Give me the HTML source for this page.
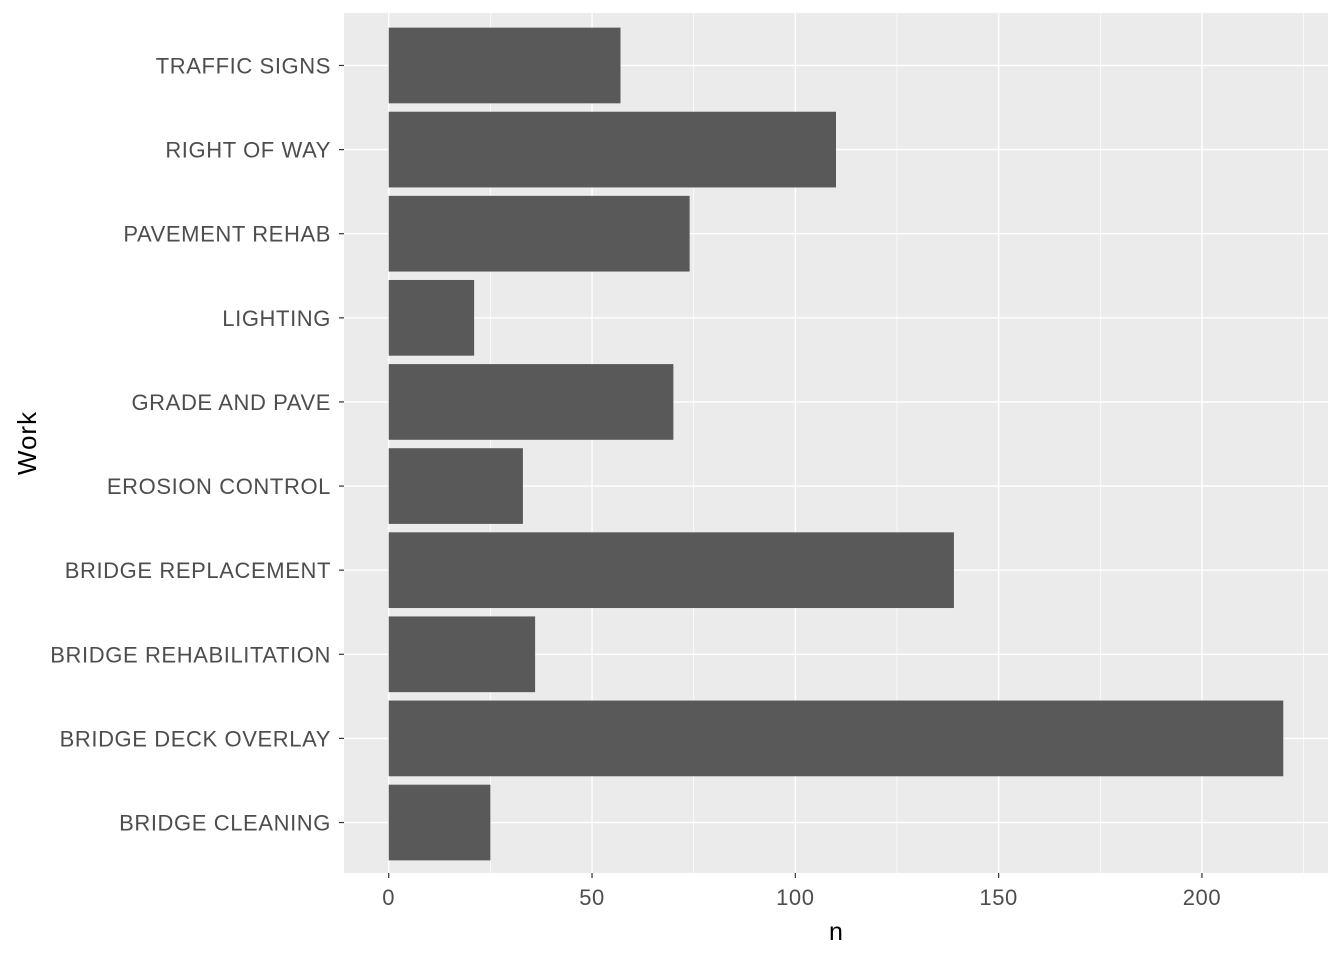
<!DOCTYPE html>
<html><head><meta charset="utf-8"><style>body{margin:0;background:#fff}svg{display:block}</style></head>
<body>
<svg id="chart" width="1344" height="960" xmlns="http://www.w3.org/2000/svg" font-family="Liberation Sans, sans-serif"></svg>
<script>
const categories = ["BRIDGE CLEANING","BRIDGE DECK OVERLAY","BRIDGE REHABILITATION","BRIDGE REPLACEMENT","EROSION CONTROL","GRADE AND PAVE","LIGHTING","PAVEMENT REHAB","RIGHT OF WAY","TRAFFIC SIGNS"];
const values = [25,220,36,139,33,70,21,74,110,57];
const xTicks = [0,50,100,150,200];
const xMinor = [25,75,125,175,225];
const svg = document.getElementById('chart');
const NS = 'http://www.w3.org/2000/svg';
const L=344,R=1328,T=15,B=873;
const xmin=-11,xmax=231;
const xs=v=>L+(v-xmin)/(xmax-xmin)*(R-L);
const n=categories.length;
const step=(B-T)/(n+0.2);
const yc=i=>B-(0.6+i)*step;
function mk(tag,attrs,parent){const e=document.createElementNS(NS,tag);for(const k in attrs)e.setAttribute(k,attrs[k]);(parent||svg).appendChild(e);return e;}
const panel=mk('rect',{x:L,y:13,width:R-L,height:B-13,fill:'#EBEBEB'});


xMinor.forEach(v=>{const g=mk('line',{x1:xs(v),x2:xs(v),y1:13,y2:B,stroke:'#fff','stroke-width':0.7});

});
xTicks.forEach(v=>{const g=mk('line',{x1:xs(v),x2:xs(v),y1:13,y2:B,stroke:'#fff','stroke-width':1.4});


const t=mk('line',{x1:xs(v),x2:xs(v),y1:B,y2:B+5,stroke:'#333','stroke-width':1.2});


const l=mk('text',{x:xs(v),y:B+32,'text-anchor':'middle','font-size':22,'letter-spacing':0.6,fill:'#4D4D4D'});l.textContent=v;

});
categories.forEach((c,i)=>{const y=yc(i);
const g=mk('line',{x1:L,x2:R,y1:y,y2:y,stroke:'#fff','stroke-width':1.4});

});
categories.forEach((c,i)=>{const y=yc(i),h=step*0.9;
const b=mk('rect',{x:xs(0),y:y-h/2,width:xs(values[i])-xs(0),height:h,fill:'#595959'});


const t=mk('line',{x1:L-5,x2:L,y1:y,y2:y,stroke:'#333','stroke-width':1.2});


const l=mk('text',{x:L-13,y:y+8,'text-anchor':'end','font-size':22,'letter-spacing':0.6,fill:'#4D4D4D'});l.textContent=c;

});
const xt=mk('text',{x:(L+R)/2,y:940,'text-anchor':'middle','font-size':25,fill:'#000'});xt.textContent='n';


const yt=mk('text',{x:0,y:0,'text-anchor':'middle','font-size':26,'letter-spacing':1,fill:'#000',transform:`translate(36,${(13+B)/2}) rotate(-90)`});yt.textContent='Work';


</script>
</body></html>
